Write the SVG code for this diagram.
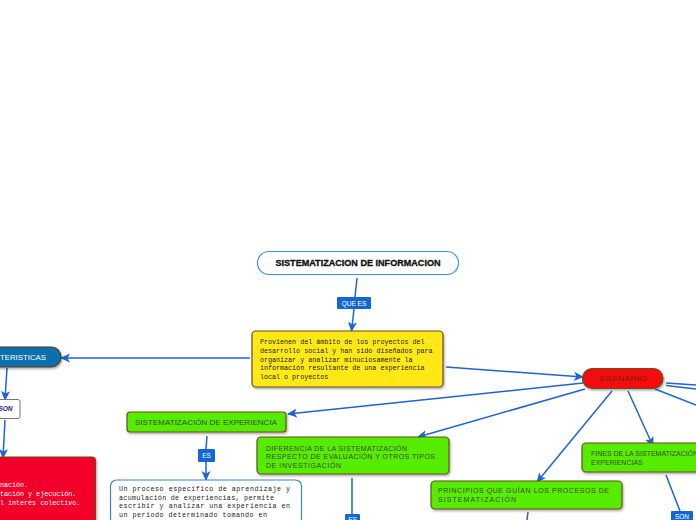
<svg xmlns="http://www.w3.org/2000/svg" width="696" height="520" viewBox="0 0 696 520">
<defs>
<marker id="arr" markerUnits="userSpaceOnUse" markerWidth="10" markerHeight="10" viewBox="0 0 10 10" refX="9" refY="5" orient="auto">
<path d="M0,0.5 L10,5 L0,9.5 L2.5,5 Z" fill="#1f63d8"/>
</marker>
<filter id="sh" x="-10%" y="-10%" width="130%" height="150%">
<feDropShadow dx="1" dy="1.5" stdDeviation="0.8" flood-color="#000" flood-opacity="0.35"/>
</filter>
</defs>
<style>
.c{stroke:#1f63d8;stroke-width:1.5;fill:none}
.g{fill:#56ec06;stroke:#6b4f1d;stroke-width:1.2}
.gt{font-family:"Liberation Sans",Arial,sans-serif;font-size:7px;fill:#3d4a1c}
.lab{fill:#1366d6}
.lt{font-family:"Liberation Sans",Arial,sans-serif;font-size:6.5px;fill:#fff}
.mono{font-family:"Liberation Mono","DejaVu Sans Mono",monospace;font-size:6.7px}
</style>
<rect width="696" height="520" fill="#fff"/>
<g id="connectors">
<path class="c" d="M357,278 L355,297"/>
<path class="c" d="M354,309 L351.5,331" marker-end="url(#arr)"/>
<path class="c" d="M250,358 L61,358" marker-end="url(#arr)"/>
<path class="c" d="M7,368 L5,400" marker-end="url(#arr)"/>
<path class="c" d="M5,420 L3,458" marker-end="url(#arr)"/>
<path class="c" d="M446,367 L583,377" marker-end="url(#arr)"/>
<path class="c" d="M583,383 L288,414" marker-end="url(#arr)"/>
<path class="c" d="M585,389 L418,437" marker-end="url(#arr)"/>
<path class="c" d="M612,391 L537,482" marker-end="url(#arr)"/>
<path class="c" d="M628,391 L653,446" marker-end="url(#arr)"/>
<path class="c" d="M666,383 L696,385"/>
<path class="c" d="M666,385.5 L696,389"/>
<path class="c" d="M655,389 L696,405"/>
<path class="c" d="M207,436 L206,449"/>
<path class="c" d="M206,462 L206,480" marker-end="url(#arr)"/>
<path class="c" d="M352,478 L352,515"/>
<path class="c" d="M528,512 L527,520"/>
<path class="c" d="M666,475 L680,511"/>
</g>
<g id="n-title">
<rect x="257.5" y="251.5" width="201" height="23" rx="11.5" fill="#fff" stroke="#3b8ff0" stroke-width="1.2"/>
<text x="358" y="266" text-anchor="middle" font-family="Liberation Sans,Arial,sans-serif" font-weight="bold" font-size="9.5" textLength="165" lengthAdjust="spacingAndGlyphs" fill="#111" stroke="#111" stroke-width="0.35">SISTEMATIZACION DE INFORMACION</text>
</g>
<g id="l-quees">
<rect class="lab" x="337" y="297" width="34" height="12" rx="1"/>
<text class="lt" x="354" y="305.5" text-anchor="middle">QUE ES</text>
</g>
<g id="n-yellow">
<rect x="252" y="331" width="191" height="56" rx="4" fill="#ffe817" stroke="#6b4f1d" stroke-width="1.2" filter="url(#sh)"/>
<text class="mono" fill="#222">
<tspan x="260" y="344">Provienen del ámbito de los proyectos del</tspan>
<tspan x="260" y="353">desarrollo social y han sido diseñados para</tspan>
<tspan x="260" y="361.5">organizar y analizar minuciosamente la</tspan>
<tspan x="260" y="370">información resultante de una experiencia</tspan>
<tspan x="260" y="379">local o proyectos</tspan>
</text>
</g>
<g id="n-caracteristicas">
<rect x="-40" y="347" width="101" height="20" rx="10" fill="#0a6fae" stroke="#5a3a1a" stroke-width="1.2" filter="url(#sh)"/>
<text x="0" y="359.5" font-family="Liberation Sans,Arial,sans-serif" font-size="7.5" fill="#fff" textLength="46" lengthAdjust="spacingAndGlyphs">TERISTICAS</text>
</g>
<g id="l-son-left">
<rect x="-20" y="399.5" width="40" height="19" rx="2" fill="#fff" stroke="#777" stroke-width="1"/>
<text x="12.5" y="410.5" text-anchor="end" font-family="Liberation Sans,Arial,sans-serif" font-size="6.5" font-style="italic" font-weight="bold" fill="#1a237e">SON</text>
</g>
<g id="n-red">
<rect x="-20" y="457" width="115.5" height="80" rx="3" fill="#f2002c" stroke="#6b4f1d" stroke-width="1" filter="url(#sh)"/>
<text class="mono" fill="#fff">
<tspan x="0" y="487">nación.</tspan>
<tspan x="0" y="496">tación y ejecución.</tspan>
<tspan x="0" y="505">l interés colectivo.</tspan>
</text>
</g>
<g id="n-sisexp">
<rect class="g" x="127" y="412" width="159" height="20" rx="3" filter="url(#sh)"/>
<text class="gt" x="206" y="425" text-anchor="middle" textLength="142" lengthAdjust="spacingAndGlyphs">SISTEMATIZACIÓN DE EXPERIENCIA</text>
</g>
<g id="l-es1">
<rect class="lab" x="198" y="449" width="17" height="13" rx="1"/>
<text class="lt" x="206.5" y="458" text-anchor="middle">ES</text>
</g>
<g id="n-white">
<rect x="110.5" y="480" width="191" height="60" rx="6" fill="#fff" stroke="#3b7fe0" stroke-width="1.2"/>
<text class="mono" fill="#222" font-size="7">
<tspan x="119" y="491" textLength="171">Un proceso especifico de aprendizaje y</tspan>
<tspan x="119" y="499.5" textLength="155">acumulación de experiencias, permite</tspan>
<tspan x="119" y="508" textLength="171">escribir y analizar una experiencia en</tspan>
<tspan x="119" y="516.5" textLength="148">un periodo determinado tomando en</tspan>
</text>
</g>
<g id="n-diferencia">
<rect class="g" x="257" y="437" width="192" height="37" rx="4" filter="url(#sh)"/>
<text class="gt">
<tspan x="266" y="450.5" textLength="141">DIFERENCIA DE LA SISTEMATIZACIÓN</tspan>
<tspan x="266" y="459" textLength="169">RESPECTO DE EVALUACIÓN Y OTROS TIPOS</tspan>
<tspan x="266" y="467.5" textLength="75">DE INVESTIGACIÓN</tspan>
</text>
</g>
<g id="l-es2">
<rect class="lab" x="345" y="514" width="15" height="12" rx="1"/>
<text class="lt" x="352.5" y="522" text-anchor="middle">ES</text>
</g>
<g id="n-esenario">
<rect x="582.5" y="368.5" width="80.5" height="20" rx="10" fill="#f50808" stroke="#6b4f1d" stroke-width="1.2" filter="url(#sh)"/>
<text x="623" y="381" text-anchor="middle" font-family="Liberation Sans,Arial,sans-serif" font-size="7.5" fill="#7a2008" textLength="47" lengthAdjust="spacingAndGlyphs">ESENARIO</text>
</g>
<g id="n-principios">
<rect class="g" x="431" y="481" width="191" height="28" rx="4" filter="url(#sh)"/>
<text class="gt">
<tspan x="438" y="493" textLength="171">PRINCIPIOS QUE GUÍAN LOS PROCESOS DE</tspan>
<tspan x="438" y="501.5" textLength="78">SISTEMATIZACIÓN</tspan>
</text>
</g>
<g id="n-fines">
<rect class="g" x="582" y="443" width="140" height="29" rx="4" filter="url(#sh)"/>
<text class="gt">
<tspan x="591" y="456">FINES DE LA SISTEMATIZACIÓN</tspan>
<tspan x="591" y="465">EXPERIENCIAS</tspan>
</text>
</g>
<g id="l-son-right">
<rect class="lab" x="671" y="511" width="22" height="12" rx="1"/>
<text class="lt" x="682" y="519" text-anchor="middle">SON</text>
</g>
</svg>
